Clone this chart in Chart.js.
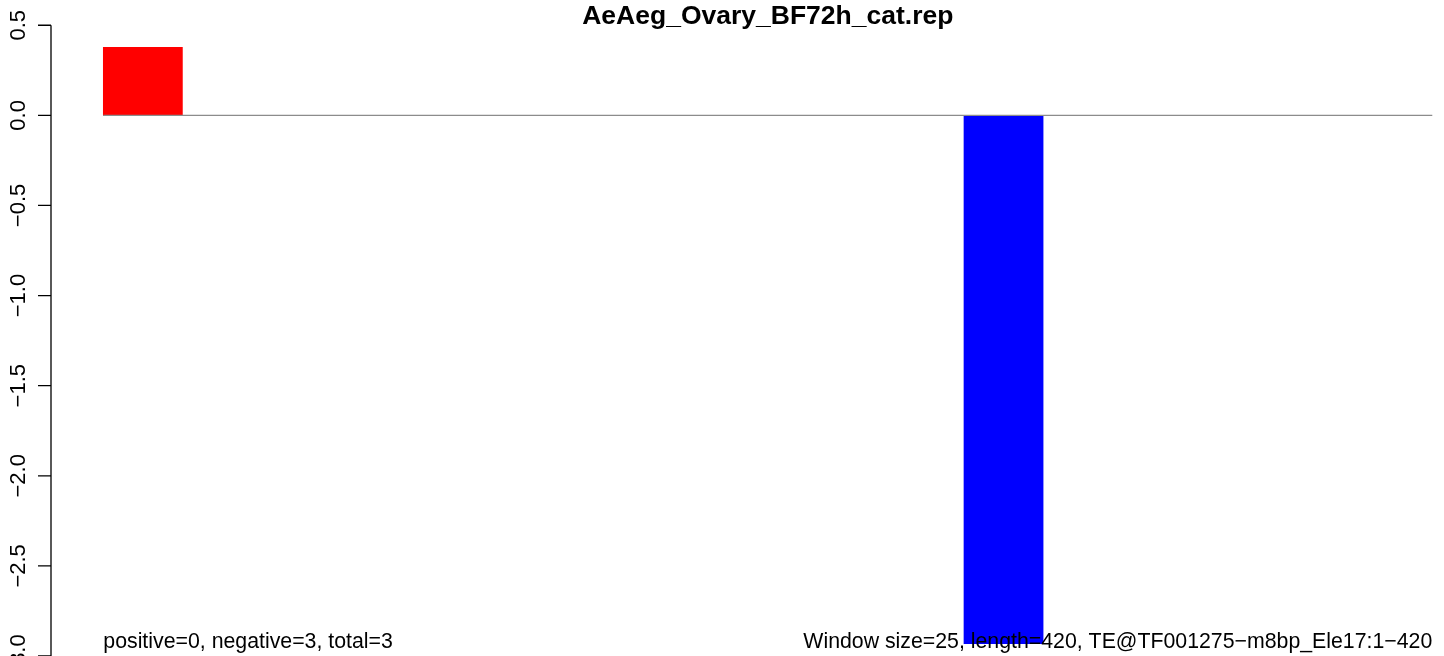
<!DOCTYPE html>
<html>
<head>
<meta charset="utf-8">
<script src="https://cdn.jsdelivr.net/npm/chart.js@4"></script>
<style>
  html, body { margin: 0; padding: 0; background: #fff; }
  #wrap { width: 1444px; height: 656px; }
</style>
</head>
<body>
<div id="wrap"><canvas id="repChart" width="1444" height="656"></canvas></div>
<script>
// windows along the element, in bp
const windowStarts = [0, 272];
const windowSize = 25;
const windowScores = [0.377, -2.932];
const elementLength = 420;

// y axis ticks (R style, labels rotated)
const yTickValues = [0.5, 0.0, -0.5, -1.0, -1.5, -2.0, -2.5, -3.0];
const yTickLabels = ['0.5', '0.0', '\u22120.5', '\u22121.0', '\u22121.5', '\u22122.0', '\u22122.5', '\u22123.0'];

const chartTitle = 'AeAeg_Ovary_BF72h_cat.rep';
const leftNote = 'positive=0, negative=3, total=3';
const rightNote = 'Window size=25, length=420, TE@TF001275\u2212m8bp_Ele17:1\u2212420';

const FONT = '"Liberation Sans", Arial, Helvetica, sans-serif';

const barPoints = windowStarts.map((s, i) => ({ x: s + windowSize / 2, y: windowScores[i] }));
const barColors = windowScores.map(v => v >= 0 ? '#ff0000' : '#0000ff');

// axis, title and notes drawn the way R lays them out
const rDecor = {
  id: 'rDecor',
  afterDatasetsDraw(chart) {
    const ctx = chart.ctx;
    const xs = chart.scales.x;
    const ys = chart.scales.y;
    const axX = chart.chartArea.left;
    ctx.save();

    ctx.strokeStyle = '#000';
    ctx.lineWidth = 1.3;
    ctx.beginPath();
    ctx.moveTo(axX, ys.getPixelForValue(yTickValues[0]));
    ctx.lineTo(axX, ys.getPixelForValue(yTickValues[yTickValues.length - 1]));
    yTickValues.forEach(v => {
      const py = ys.getPixelForValue(v);
      ctx.moveTo(axX - 13, py);
      ctx.lineTo(axX, py);
    });
    ctx.stroke();

    ctx.fillStyle = '#000';
    ctx.font = '22px ' + FONT;
    ctx.textAlign = 'center';
    ctx.textBaseline = 'alphabetic';
    yTickValues.forEach((v, i) => {
      ctx.save();
      ctx.translate(axX - 26, ys.getPixelForValue(v));
      ctx.rotate(-Math.PI / 2);
      ctx.fillText(yTickLabels[i], 0, 0);
      ctx.restore();
    });

    // title
    ctx.font = 'bold 26.5px ' + FONT;
    ctx.textAlign = 'center';
    ctx.fillText(chartTitle, xs.getPixelForValue(elementLength / 2), 24);

    // notes
    ctx.font = '21.3px ' + FONT;
    ctx.textAlign = 'left';
    ctx.fillText(leftNote, xs.getPixelForValue(0), 648);
    ctx.textAlign = 'right';
    ctx.fillText(rightNote, xs.getPixelForValue(elementLength), 648);

    ctx.restore();
  }
};

new Chart(document.getElementById('repChart'), {
  type: 'bar',
  data: {
    datasets: [{
      type: 'line',
      data: [{ x: 0, y: 0 }, { x: elementLength, y: 0 }],
      borderColor: '#8c8c8c',
      borderWidth: 1.4,
      pointRadius: 0,
      order: 0
    }, {
      label: 'score',
      data: barPoints,
      backgroundColor: barColors,
      borderWidth: 0,
      barPercentage: 1,
      categoryPercentage: 1,
      order: 1
    }]
  },
  options: {
    responsive: false,
    animation: false,
    devicePixelRatio: 1,
    layout: {
      padding: { left: 51, right: 0, top: 0, bottom: 0 }
    },
    plugins: {
      legend: { display: false },
      tooltip: { enabled: false }
    },
    scales: {
      x: {
        type: 'linear',
        offset: false,
        min: -16.53,
        max: 423.7,
        display: false,
        afterBuildTicks: scale => {
          const t = [];
          for (let v = 0; v < elementLength; v += windowSize) t.push({ value: v });
          scale.ticks = t;
        }
      },
      y: {
        min: -3.0,
        max: 0.64,
        display: false
      }
    }
  },
  plugins: [rDecor]
});
</script>
</body>
</html>
